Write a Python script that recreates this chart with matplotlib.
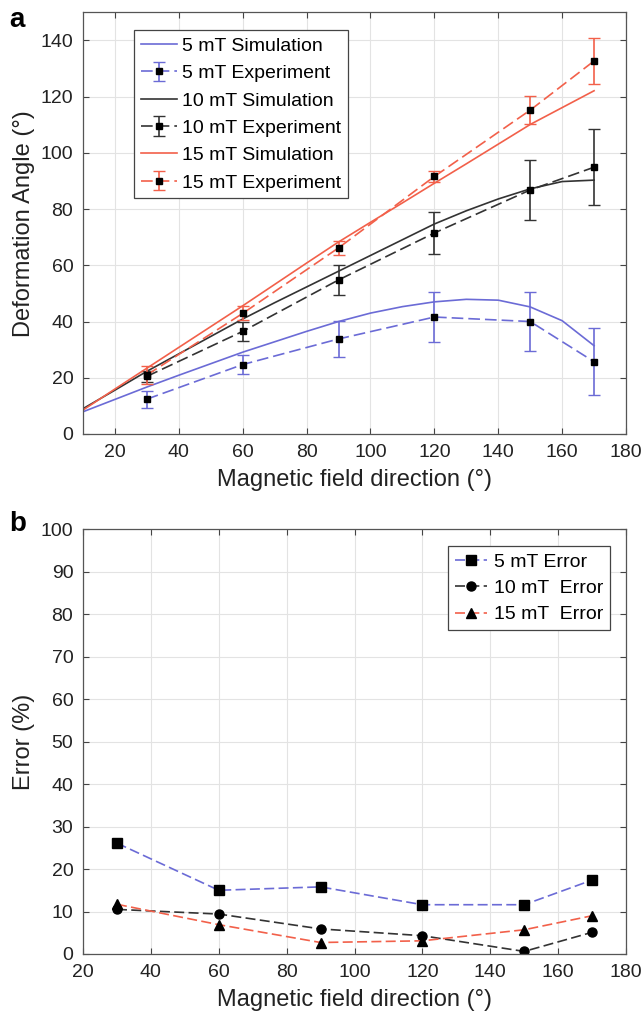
import matplotlib.pyplot as plt
import numpy as np

plt.rcParams['font.family'] = ['Liberation Sans', 'DejaVu Sans']

# panel a data
sim_x = [10, 20, 30, 40, 50, 60, 70, 80, 90, 100, 110, 120, 130, 140, 150, 160, 170]
sim5 = [7.9, 12.3, 16.7, 20.9, 25.0, 29.1, 32.8, 36.5, 40.0, 43.0, 45.3, 47.0, 47.9, 47.6, 45.2, 40.3, 31.4]
sim10 = [9.0, 15.6, 22.3, 28.5, 34.7, 40.9, 46.7, 52.3, 57.9, 63.5, 69.1, 74.7, 79.4, 83.6, 87.2, 89.8, 90.3]
sim15 = [8.5, 16.0, 23.4, 30.8, 38.2, 45.6, 53.2, 60.8, 68.3, 75.3, 82.2, 89.2, 96.1, 103.1, 110.1, 116.1, 122.1]

exp_x = [30, 60, 90, 120, 150, 170]
exp5 = [12.4, 24.7, 33.8, 41.6, 40.0, 25.7]
err5 = [3.0, 3.5, 6.3, 8.8, 10.6, 11.9]
exp10 = [20.5, 36.5, 54.8, 71.5, 86.8, 94.9]
err10 = [2.0, 3.5, 5.3, 7.4, 10.7, 13.5]
exp15 = [21.0, 42.9, 66.2, 91.6, 115.2, 132.7]
err15 = [3.3, 2.5, 2.5, 2.0, 4.9, 8.2]

# panel b data
errpct5 = [26.1, 15.0, 15.8, 11.6, 11.6, 17.4]
errpct10 = [10.5, 9.4, 5.9, 4.3, 0.6, 5.1]
errpct15 = [11.7, 6.9, 2.7, 3.1, 5.7, 9.0]

blue = '#6b6bd6'
black = '#333333'
red = '#f2604a'

fig = plt.figure(figsize=(6.42, 10.18), dpi=100)
ax1 = fig.add_axes([0.1293, 0.5737, 0.8458, 0.4142])
ax2 = fig.add_axes([0.1293, 0.0629, 0.8458, 0.4171])

for ax in (ax1, ax2):
    ax.grid(True, color='#e3e3e3', linewidth=0.8)
    ax.set_axisbelow(True)
    ax.tick_params(direction='in', top=True, right=True, labelsize=14, length=4, pad=7,
                   colors='#444444', labelcolor='#222222')
    for s in ax.spines.values():
        s.set_color('#555555')
        s.set_linewidth(0.9)

h1, = ax1.plot(sim_x, sim5, color=blue, lw=1.2, label='5 mT Simulation')
h2 = ax1.errorbar(exp_x, exp5, yerr=err5, color=blue, ls='--', dashes=(7, 3), lw=1.2, marker='s', ms=5,
                  mfc='k', mec='k', capsize=4, label='5 mT Experiment')
h3, = ax1.plot(sim_x, sim10, color=black, lw=1.2, label='10 mT Simulation')
h4 = ax1.errorbar(exp_x, exp10, yerr=err10, color=black, ls='--', dashes=(7, 3), lw=1.2, marker='s', ms=5,
                  mfc='k', mec='k', capsize=4, label='10 mT Experiment')
h5, = ax1.plot(sim_x, sim15, color=red, lw=1.2, label='15 mT Simulation')
h6 = ax1.errorbar(exp_x, exp15, yerr=err15, color=red, ls='--', dashes=(7, 3), lw=1.2, marker='s', ms=5,
                  mfc='k', mec='k', capsize=4, label='15 mT Experiment')
ax1.set_xlim(10, 180)
ax1.set_ylim(0, 150)
ax1.set_xticks(np.arange(20, 181, 20))
ax1.set_yticks(np.arange(0, 141, 20))
ax1.set_xlabel('Magnetic field direction (°)', fontsize=17, color='#222222', labelpad=6)
ax1.set_ylabel('Deformation Angle (°)', fontsize=17, color='#222222', labelpad=4)
leg = ax1.legend(handles=[h1, h2, h3, h4, h5, h6], loc='upper left', bbox_to_anchor=(0.094, 0.957),
                 fontsize=14, fancybox=False, edgecolor='#444444', framealpha=1, handlelength=1.85,
                 handletextpad=0.25, borderpad=0.35, labelspacing=0.5, borderaxespad=0)
leg.get_frame().set_linewidth(0.9)

ax2.plot(exp_x, errpct5, color=blue, ls='--', dashes=(6, 2.6), lw=1.2, marker='s', ms=6.5, mfc='k', mec='k', label='5 mT Error')
ax2.plot(exp_x, errpct10, color=black, ls='--', dashes=(6, 2.6), lw=1.2, marker='o', ms=6.5, mfc='k', mec='k', label='10 mT  Error')
ax2.plot(exp_x, errpct15, color=red, ls='--', dashes=(6, 2.6), lw=1.2, marker='^', ms=6.5, mfc='k', mec='k', label='15 mT  Error')
ax2.set_xlim(20, 180)
ax2.set_ylim(0, 100)
ax2.set_xticks(np.arange(20, 181, 20))
ax2.set_yticks(np.arange(0, 101, 10))
ax2.set_xlabel('Magnetic field direction (°)', fontsize=17, color='#222222', labelpad=6)
ax2.set_ylabel('Error (%)', fontsize=17, color='#222222', labelpad=4)
leg2 = ax2.legend(loc='upper right', bbox_to_anchor=(0.97, 0.96), fontsize=14, fancybox=False,
                  edgecolor='#444444', framealpha=1, handlelength=1.65, handletextpad=0.35,
                  borderpad=0.35, labelspacing=0.45, borderaxespad=0)
leg2.get_frame().set_linewidth(0.9)

fig.text(0.014, 0.993, 'a', fontsize=20, fontweight='bold', va='top')
fig.text(0.014, 0.498, 'b', fontsize=20, fontweight='bold', va='top')

fig.savefig('out.png', dpi=100)
